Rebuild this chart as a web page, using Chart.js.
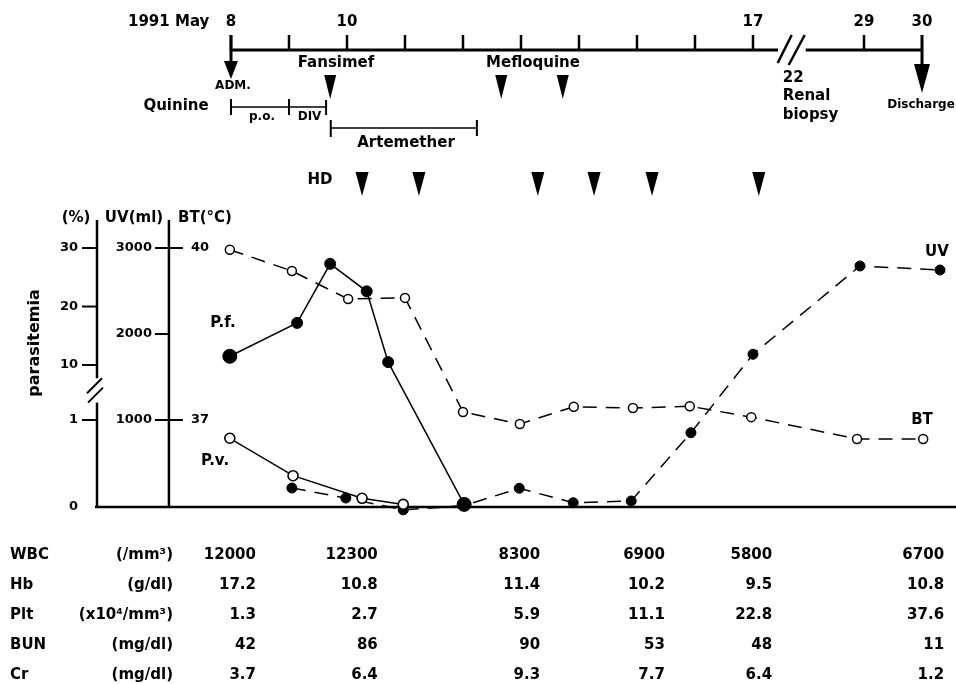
<!DOCTYPE html>
<html lang="en">
<head>
<meta charset="UTF-8">
<title>Clinical course</title>
<script src="https://cdn.jsdelivr.net/npm/chart.js@4.4.0/dist/chart.umd.min.js"></script>
<style>
  body { margin: 0; background: #fff; }
</style>
</head>
<body>
<canvas id="chart" width="956" height="684"></canvas>
<script>
// parasitemia (%)
const pfDays = [7.98, 9.14, 9.71, 10.34, 10.71, 12.02];
const pfVals = [11.5, 17.2, 27.3, 22.6, 10.5, 0.03];
const pvDays = [7.98, 9.07, 10.26, 10.97];
const pvVals = [0.79, 0.36, 0.10, 0.03];
// urine volume (ml)
const uvDays = [9.05, 9.98, 10.97, 12.02, 12.97, 13.9, 14.9, 15.93, 17.0, 28.93, 30.31];
const uvVals = [209, 93, -45, 5, 206, 38, 58, 852, 1764, 2791, 2744];
// body temperature (C)
const btDays = [7.98, 9.05, 10.02, 11.0, 12.0, 12.98, 13.91, 14.93, 15.91, 16.97, 28.88, 30.02];
const btVals = [39.97, 39.6, 39.11, 39.13, 37.14, 36.93, 37.23, 37.21, 37.24, 37.05, 36.67, 36.67];

// axis ticks
const pctTicks = [30, 20, 10, 1];
const uvTicks = [3000, 2000, 1000];
const btTicks = [40, 37];

// timeline (May 1991)
const tickDays = [8, 9, 10, 11, 12, 13, 14, 15, 16, 17];
const dayLabels = [8, 10, 17, 29, 30];
const fansimefDays = [9.71];
const mefloquineDays = [12.66, 13.72];
const hdDays = [10.26, 11.24, 13.29, 14.26, 15.26, 17.1];
const quinine = [[8, 9, 'p.o.'], [9, 9.64, 'DIV']];
const artemether = [9.72, 12.24];

// lab table
const labDays = [8, 10.1, 12.9, 15.05, 16.9, 29.95];
const labNames = ['WBC', 'Hb', 'Plt', 'BUN', 'Cr'];
const labUnits = ['(/mm\u00B3)', '(g/dl)', '(x10\u2074/mm\u00B3)', '(mg/dl)', '(mg/dl)'];
const wbc = ['12000', '12300', '8300', '6900', '5800', '6700'];
const hb  = ['17.2', '10.8', '11.4', '10.2', '9.5', '10.8'];
const plt = ['1.3', '2.7', '5.9', '11.1', '22.8', '37.6'];
const bun = ['42', '86', '90', '53', '48', '11'];
const cr  = ['3.7', '6.4', '9.3', '7.7', '6.4', '1.2'];

// x axis is broken between 17 and 29
const breakAt = 17.65;
function dayPos(d) { return d < 25 ? d : d - 29 + 18.914; }
// parasitemia axis is broken between 1 and 10
function pctPos(v) { return v <= 1 ? v : 1.632 + (v - 10) * 0.06724; }

const pts = (days, vals, f) => days.map((d, i) => ({x: dayPos(d), y: f ? f(vals[i]) : vals[i]}));

const font = s => 'bold ' + s + 'px "DejaVu Sans", sans-serif';

const decor = {
  id: 'decor',
  beforeDatasetsDraw(chart) {
    const {ctx, chartArea: a, scales: {x, yP, yUV, yBT}} = chart;
    const px = d => x.getPixelForValue(dayPos(d));
    ctx.save();
    ctx.strokeStyle = '#000';
    ctx.fillStyle = '#000';
    ctx.lineCap = 'butt';
    const line = (x1, y1, x2, y2, w) => {
      ctx.lineWidth = w; ctx.beginPath(); ctx.moveTo(x1, y1); ctx.lineTo(x2, y2); ctx.stroke();
    };
    const text = (s, tx, ty, size, align) => {
      ctx.font = font(size); ctx.textAlign = align || 'center'; ctx.textBaseline = 'middle';
      ctx.fillText(s, tx, ty);
    };
    const tri = (cx, top, bot, hw) => {
      ctx.beginPath(); ctx.moveTo(cx - hw, top); ctx.lineTo(cx + hw, top); ctx.lineTo(cx, bot); ctx.closePath(); ctx.fill();
    };

    // ---- plot axes ----
    line(a.left - 2, a.bottom, a.right, a.bottom, 2.5);
    const gapTop = yP.getPixelForValue(1.48), gapBot = yP.getPixelForValue(1.2);
    line(a.left, a.top, a.left, gapTop, 2.5);
    line(a.left, gapBot, a.left, a.bottom, 2.5);
    line(a.left - 10, gapTop + 15, a.left + 5, gapTop, 2);
    line(a.left - 9, gapBot, a.left + 6, gapBot - 15, 2);
    pctTicks.forEach(v => {
      const y = yP.getPixelForValue(pctPos(v));
      line(a.left - 15, y, a.left, y, 2);
      text(String(v), a.left - 19, y, 13, 'right');
    });
    text('0', a.left - 19, a.bottom, 13, 'right');

    const ax = x.getPixelForValue(6.93);
    line(ax, a.top, ax, a.bottom, 2.5);
    uvTicks.forEach(v => {
      const y = yUV.getPixelForValue(v);
      line(ax - 14, y, ax, y, 2);
      text(String(v), ax - 17, y, 13, 'right');
    });
    btTicks.forEach(v => {
      const y = yBT.getPixelForValue(v);
      line(ax, y, ax + 14, y, 2);
      text(String(v), ax + 22, y, 13, 'left');
    });
    text('(%)', 76, a.top - 2, 15);
    text('UV(ml)', 134, a.top - 2, 15);
    text('BT(\u00B0C)', 178, a.top - 2, 15, 'left');
    ctx.save();
    ctx.translate(35, 343); ctx.rotate(-Math.PI / 2);
    text('parasitemia', 0, 0, 16);
    ctx.restore();

    text('P.f.', 223, 323, 15);
    text('P.v.', 215, 461, 15);
    text('UV', 937, 252, 15);
    text('BT', 922, 420, 15);

    // ---- timeline ----
    const tl = 50;
    text('1991 May', 128, 22, 15, 'left');
    dayLabels.forEach(d => text(String(d), px(d), 22, 15));
    line(px(8), tl, px(17) + 25, tl, 3);
    tickDays.forEach(d => line(px(d), 35, px(d), tl, 2.5));
    // admission arrow
    line(px(8), 35, px(8), 63, 3);
    tri(px(8), 61, 79, 7);
    const bx = x.getPixelForValue(breakAt);
    line(bx - 13, 63, bx + 1, 35, 2.5);
    line(bx - 2, 65, bx + 14, 35, 2.5);
    line(bx + 15, tl, px(30), tl, 3);
    line(px(29), 35, px(29), tl, 2.5);
    // discharge arrow
    line(px(30), 35, px(30), 66, 3);
    tri(px(30), 64, 93, 8);

    text('ADM.', px(8) + 2, 86, 12);
    text('Fansimef', 336, 63, 15);
    text('Mefloquine', 533, 63, 15);
    fansimefDays.concat(mefloquineDays).forEach(d => tri(px(d), 75, 99, 6));

    text('22', bx - 8, 78, 15, 'left');
    text('Renal', bx - 8, 96, 15, 'left');
    text('biopsy', bx - 8, 115, 15, 'left');
    text('Discharge', px(30) - 1, 105, 12);

    text('Quinine', 176, 106, 15);
    line(px(quinine[0][0]), 107, px(quinine[1][1]), 107, 1.5);
    quinine.forEach(([s, e, lab]) => {
      line(px(s), 99, px(s), 115, 2);
      line(px(e), 100, px(e), 115, 2);
      text(lab, (px(s) + px(e)) / 2 + 2, 117, 12);
    });
    line(px(artemether[0]), 128, px(artemether[1]), 128, 1.5);
    line(px(artemether[0]), 120, px(artemether[0]), 137, 2);
    line(px(artemether[1]), 120, px(artemether[1]), 136, 2);
    text('Artemether', 406, 143, 15);

    text('HD', 320, 180, 15);
    hdDays.forEach(d => tri(px(d), 172, 196, 6.5));

    // ---- lab table ----
    const rows = [wbc, hb, plt, bun, cr];
    rows.forEach((vals, r) => {
      const y = 555 + r * 30;
      text(labNames[r], 10, y, 15, 'left');
      text(labUnits[r], 173, y, 15, 'right');
      vals.forEach((v, i) => text(v, px(labDays[i]) + 25, y, 15, 'right'));
    });
    ctx.restore();
  }
};

new Chart(document.getElementById('chart'), {
  type: 'line',
  data: {
    datasets: [
      {
        label: 'P.f.', data: pts(pfDays, pfVals, pctPos), yAxisID: 'yP',
        borderColor: '#000', borderWidth: 1.5,
        pointRadius: [7, 5.5, 5.5, 5.5, 5.5, 7], pointBackgroundColor: '#000', pointBorderColor: '#000', pointBorderWidth: 1
      },
      {
        label: 'P.v.', data: pts(pvDays, pvVals, pctPos), yAxisID: 'yP',
        borderColor: '#000', borderWidth: 1.5,
        pointRadius: 5, pointBackgroundColor: '#fff', pointBorderColor: '#000', pointBorderWidth: 1.6
      },
      {
        label: 'UV', data: pts(uvDays, uvVals), yAxisID: 'yUV',
        borderColor: '#000', borderWidth: 1.5, borderDash: [14, 9],
        pointRadius: 5, pointBackgroundColor: '#000', pointBorderColor: '#000', pointBorderWidth: 1
      },
      {
        label: 'BT', data: pts(btDays, btVals), yAxisID: 'yBT',
        borderColor: '#000', borderWidth: 1.5, borderDash: [14, 9],
        pointRadius: 4.5, pointBackgroundColor: '#fff', pointBorderColor: '#000', pointBorderWidth: 1.5
      }
    ]
  },
  options: {
    responsive: false,
    animation: false,
    devicePixelRatio: 1,
    clip: false,
    layout: { autoPadding: false, padding: { left: 97, right: 0, top: 220, bottom: 177 } },
    elements: { line: { tension: 0, fill: false } },
    plugins: { legend: { display: false }, tooltip: { enabled: false } },
    scales: {
      x: { type: 'linear', min: 5.69, max: 20.5, display: false },
      yP: { type: 'linear', min: 0, max: 3.299, display: false },
      yUV: { type: 'linear', min: -11.6, max: 3325.6, display: false },
      yBT: { type: 'linear', min: 35.4825, max: 40.4884, display: false }
    }
  },
  plugins: [decor]
});
</script>
</body>
</html>
